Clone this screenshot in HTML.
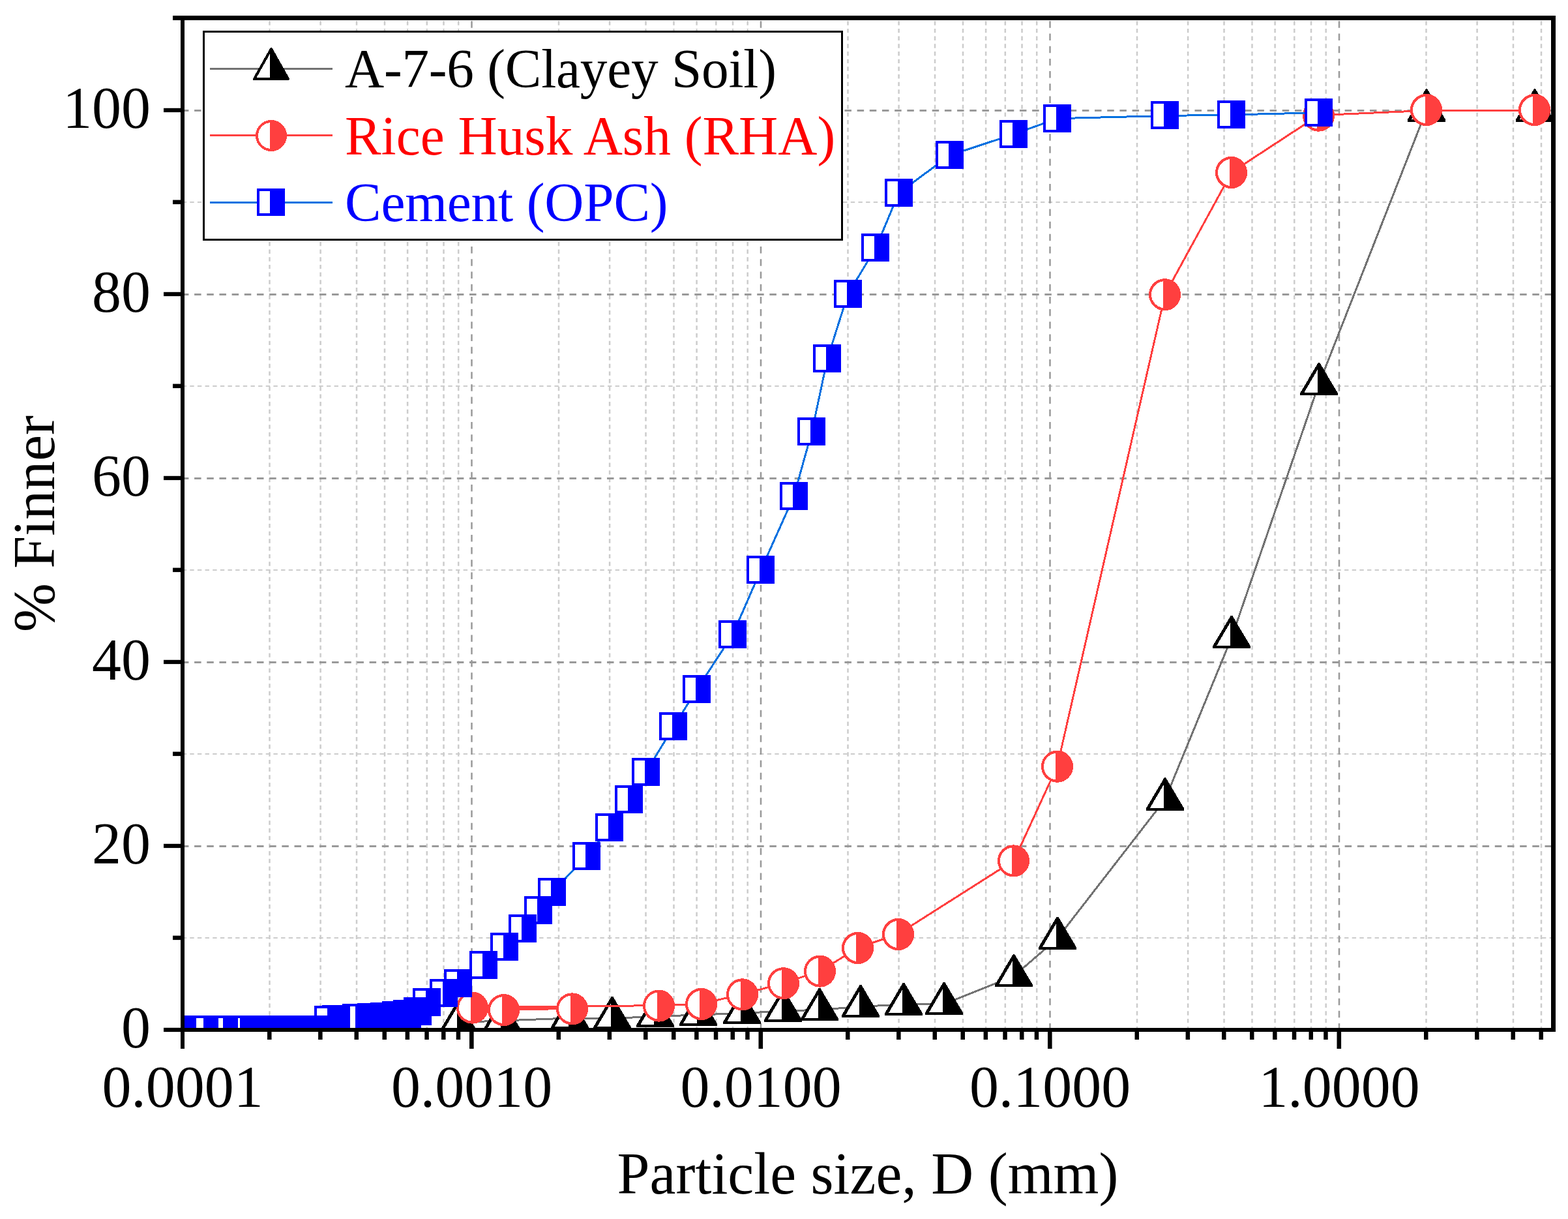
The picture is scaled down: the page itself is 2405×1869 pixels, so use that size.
<!DOCTYPE html>
<html lang="en"><head><meta charset="utf-8"><title>Particle size distribution</title>
<style>html,body{margin:0;padding:0;background:#fff;}svg{display:block;}text{font-family:"Liberation Serif",serif;}</style></head><body>
<svg width="2405" height="1869" viewBox="0 0 2405 1869">
<rect x="0" y="0" width="2405" height="1869" fill="#fff"/>
<defs><clipPath id="plot"><rect x="283" y="31" width="2096" height="1545"/></clipPath></defs>
<g clip-path="url(#plot)" fill="none">
<line x1="413.51" y1="32.27" x2="413.51" y2="1579" stroke="#cccccc" stroke-width="2.5" stroke-dasharray="6.4 5.277"/>
<line x1="491.60" y1="32.27" x2="491.60" y2="1579" stroke="#cccccc" stroke-width="2.5" stroke-dasharray="6.4 5.277"/>
<line x1="547.01" y1="32.27" x2="547.01" y2="1579" stroke="#cccccc" stroke-width="2.5" stroke-dasharray="6.4 5.277"/>
<line x1="589.99" y1="32.27" x2="589.99" y2="1579" stroke="#cccccc" stroke-width="2.5" stroke-dasharray="6.4 5.277"/>
<line x1="625.11" y1="32.27" x2="625.11" y2="1579" stroke="#cccccc" stroke-width="2.5" stroke-dasharray="6.4 5.277"/>
<line x1="654.80" y1="32.27" x2="654.80" y2="1579" stroke="#cccccc" stroke-width="2.5" stroke-dasharray="6.4 5.277"/>
<line x1="680.52" y1="32.27" x2="680.52" y2="1579" stroke="#cccccc" stroke-width="2.5" stroke-dasharray="6.4 5.277"/>
<line x1="703.21" y1="32.27" x2="703.21" y2="1579" stroke="#cccccc" stroke-width="2.5" stroke-dasharray="6.4 5.277"/>
<line x1="857.01" y1="32.27" x2="857.01" y2="1579" stroke="#cccccc" stroke-width="2.5" stroke-dasharray="6.4 5.277"/>
<line x1="935.10" y1="32.27" x2="935.10" y2="1579" stroke="#cccccc" stroke-width="2.5" stroke-dasharray="6.4 5.277"/>
<line x1="990.51" y1="32.27" x2="990.51" y2="1579" stroke="#cccccc" stroke-width="2.5" stroke-dasharray="6.4 5.277"/>
<line x1="1033.49" y1="32.27" x2="1033.49" y2="1579" stroke="#cccccc" stroke-width="2.5" stroke-dasharray="6.4 5.277"/>
<line x1="1068.61" y1="32.27" x2="1068.61" y2="1579" stroke="#cccccc" stroke-width="2.5" stroke-dasharray="6.4 5.277"/>
<line x1="1098.30" y1="32.27" x2="1098.30" y2="1579" stroke="#cccccc" stroke-width="2.5" stroke-dasharray="6.4 5.277"/>
<line x1="1124.02" y1="32.27" x2="1124.02" y2="1579" stroke="#cccccc" stroke-width="2.5" stroke-dasharray="6.4 5.277"/>
<line x1="1146.71" y1="32.27" x2="1146.71" y2="1579" stroke="#cccccc" stroke-width="2.5" stroke-dasharray="6.4 5.277"/>
<line x1="1300.51" y1="32.27" x2="1300.51" y2="1579" stroke="#cccccc" stroke-width="2.5" stroke-dasharray="6.4 5.277"/>
<line x1="1378.60" y1="32.27" x2="1378.60" y2="1579" stroke="#cccccc" stroke-width="2.5" stroke-dasharray="6.4 5.277"/>
<line x1="1434.01" y1="32.27" x2="1434.01" y2="1579" stroke="#cccccc" stroke-width="2.5" stroke-dasharray="6.4 5.277"/>
<line x1="1476.99" y1="32.27" x2="1476.99" y2="1579" stroke="#cccccc" stroke-width="2.5" stroke-dasharray="6.4 5.277"/>
<line x1="1512.11" y1="32.27" x2="1512.11" y2="1579" stroke="#cccccc" stroke-width="2.5" stroke-dasharray="6.4 5.277"/>
<line x1="1541.80" y1="32.27" x2="1541.80" y2="1579" stroke="#cccccc" stroke-width="2.5" stroke-dasharray="6.4 5.277"/>
<line x1="1567.52" y1="32.27" x2="1567.52" y2="1579" stroke="#cccccc" stroke-width="2.5" stroke-dasharray="6.4 5.277"/>
<line x1="1590.21" y1="32.27" x2="1590.21" y2="1579" stroke="#cccccc" stroke-width="2.5" stroke-dasharray="6.4 5.277"/>
<line x1="1744.01" y1="32.27" x2="1744.01" y2="1579" stroke="#cccccc" stroke-width="2.5" stroke-dasharray="6.4 5.277"/>
<line x1="1822.10" y1="32.27" x2="1822.10" y2="1579" stroke="#cccccc" stroke-width="2.5" stroke-dasharray="6.4 5.277"/>
<line x1="1877.51" y1="32.27" x2="1877.51" y2="1579" stroke="#cccccc" stroke-width="2.5" stroke-dasharray="6.4 5.277"/>
<line x1="1920.49" y1="32.27" x2="1920.49" y2="1579" stroke="#cccccc" stroke-width="2.5" stroke-dasharray="6.4 5.277"/>
<line x1="1955.61" y1="32.27" x2="1955.61" y2="1579" stroke="#cccccc" stroke-width="2.5" stroke-dasharray="6.4 5.277"/>
<line x1="1985.30" y1="32.27" x2="1985.30" y2="1579" stroke="#cccccc" stroke-width="2.5" stroke-dasharray="6.4 5.277"/>
<line x1="2011.02" y1="32.27" x2="2011.02" y2="1579" stroke="#cccccc" stroke-width="2.5" stroke-dasharray="6.4 5.277"/>
<line x1="2033.71" y1="32.27" x2="2033.71" y2="1579" stroke="#cccccc" stroke-width="2.5" stroke-dasharray="6.4 5.277"/>
<line x1="2187.51" y1="32.27" x2="2187.51" y2="1579" stroke="#cccccc" stroke-width="2.5" stroke-dasharray="6.4 5.277"/>
<line x1="2265.60" y1="32.27" x2="2265.60" y2="1579" stroke="#cccccc" stroke-width="2.5" stroke-dasharray="6.4 5.277"/>
<line x1="2321.01" y1="32.27" x2="2321.01" y2="1579" stroke="#cccccc" stroke-width="2.5" stroke-dasharray="6.4 5.277"/>
<line x1="2363.99" y1="32.27" x2="2363.99" y2="1579" stroke="#cccccc" stroke-width="2.5" stroke-dasharray="6.4 5.277"/>
<line x1="279.6" y1="1438" x2="2382" y2="1438" stroke="#cccccc" stroke-width="2" stroke-dasharray="6.4 5.250"/>
<line x1="279.6" y1="1156" x2="2382" y2="1156" stroke="#cccccc" stroke-width="2" stroke-dasharray="6.4 5.250"/>
<line x1="279.6" y1="874" x2="2382" y2="874" stroke="#cccccc" stroke-width="2" stroke-dasharray="6.4 5.250"/>
<line x1="279.6" y1="592" x2="2382" y2="592" stroke="#cccccc" stroke-width="2" stroke-dasharray="6.4 5.250"/>
<line x1="279.6" y1="310" x2="2382" y2="310" stroke="#cccccc" stroke-width="2" stroke-dasharray="6.4 5.250"/>
<line x1="723.50" y1="32.27" x2="723.50" y2="1579" stroke="#999999" stroke-width="2.5" stroke-dasharray="10.5 8.710"/>
<line x1="1167.00" y1="32.27" x2="1167.00" y2="1579" stroke="#999999" stroke-width="2.5" stroke-dasharray="10.5 8.710"/>
<line x1="1610.50" y1="32.27" x2="1610.50" y2="1579" stroke="#999999" stroke-width="2.5" stroke-dasharray="10.5 8.710"/>
<line x1="2054.00" y1="32.27" x2="2054.00" y2="1579" stroke="#999999" stroke-width="2.5" stroke-dasharray="10.5 8.710"/>
<line x1="278.9" y1="1297.5" x2="2382" y2="1297.5" stroke="#999999" stroke-width="3" stroke-dasharray="10.5 8.680"/>
<line x1="278.9" y1="1015.5" x2="2382" y2="1015.5" stroke="#999999" stroke-width="3" stroke-dasharray="10.5 8.680"/>
<line x1="278.9" y1="733.5" x2="2382" y2="733.5" stroke="#999999" stroke-width="3" stroke-dasharray="10.5 8.680"/>
<line x1="278.9" y1="451.5" x2="2382" y2="451.5" stroke="#999999" stroke-width="3" stroke-dasharray="10.5 8.680"/>
<line x1="278.9" y1="169.5" x2="2382" y2="169.5" stroke="#999999" stroke-width="3" stroke-dasharray="10.5 8.680"/>
</g>
<g clip-path="url(#plot)" shape-rendering="crispEdges">
<path d="M2354.1,169.8 L2187.5,169.8 L2022.7,589.5 L1889.2,977.2 L1787.0,1225.7 L1621.7,1438.9 L1555.1,1496.5 L1448.5,1539.2 L1386.3,1540.2 L1319.9,1543.2 L1257.4,1548.3 L1201.0,1550.0 L1137.6,1553.5 L1070.6,1556.0 L1005.1,1558.5 L939.3,1561.3 L874.0,1561.0 L770.0,1565.0 L703.3,1567.5" fill="none" stroke="#727272" stroke-width="3" stroke-linejoin="round"/>
<path d="M2352.8,136.4 L2355.2,136.4 L2383.2,183.6 L2383.2,186.7 L2324.8,186.7 L2324.8,183.6 Z" fill="#000"/><path d="M2352,146.9 L2352,182.7 L2331,182.7 Z" fill="#fff"/>
<path d="M2186.8,136.4 L2189.2,136.4 L2217.2,183.6 L2217.2,186.7 L2158.8,186.7 L2158.8,183.6 Z" fill="#000"/><path d="M2186,146.9 L2186,182.7 L2165,182.7 Z" fill="#fff"/>
<path d="M2021.8,556.1 L2024.2,556.1 L2052.2,603.3 L2052.2,606.4 L1993.8,606.4 L1993.8,603.3 Z" fill="#000"/><path d="M2021,566.6 L2021,602.4 L2000,602.4 Z" fill="#fff"/>
<path d="M1887.8,943.8 L1890.2,943.8 L1918.2,991.0 L1918.2,994.1 L1859.8,994.1 L1859.8,991.0 Z" fill="#000"/><path d="M1887,954.3 L1887,990.1 L1866,990.1 Z" fill="#fff"/>
<path d="M1785.8,1192.3 L1788.2,1192.3 L1816.2,1239.5 L1816.2,1242.6 L1757.8,1242.6 L1757.8,1239.5 Z" fill="#000"/><path d="M1785,1202.8 L1785,1238.6 L1764,1238.6 Z" fill="#fff"/>
<path d="M1620.8,1405.5 L1623.2,1405.5 L1651.2,1452.7 L1651.2,1455.8 L1592.8,1455.8 L1592.8,1452.7 Z" fill="#000"/><path d="M1620,1416.0 L1620,1451.8 L1599,1451.8 Z" fill="#fff"/>
<path d="M1553.8,1463.1 L1556.2,1463.1 L1584.2,1510.3 L1584.2,1513.4 L1525.8,1513.4 L1525.8,1510.3 Z" fill="#000"/><path d="M1553,1473.6 L1553,1509.4 L1532,1509.4 Z" fill="#fff"/>
<path d="M1446.8,1505.8 L1449.2,1505.8 L1477.2,1553.0 L1477.2,1556.1 L1418.8,1556.1 L1418.8,1553.0 Z" fill="#000"/><path d="M1446,1516.3 L1446,1552.1 L1425,1552.1 Z" fill="#fff"/>
<path d="M1384.8,1506.8 L1387.2,1506.8 L1415.2,1554.0 L1415.2,1557.1 L1356.8,1557.1 L1356.8,1554.0 Z" fill="#000"/><path d="M1384,1517.3 L1384,1553.1 L1363,1553.1 Z" fill="#fff"/>
<path d="M1318.8,1509.8 L1321.2,1509.8 L1349.2,1557.0 L1349.2,1560.1 L1290.8,1560.1 L1290.8,1557.0 Z" fill="#000"/><path d="M1318,1520.3 L1318,1556.1 L1297,1556.1 Z" fill="#fff"/>
<path d="M1255.8,1514.9 L1258.2,1514.9 L1286.2,1562.1 L1286.2,1565.2 L1227.8,1565.2 L1227.8,1562.1 Z" fill="#000"/><path d="M1255,1525.4 L1255,1561.2 L1234,1561.2 Z" fill="#fff"/>
<path d="M1199.8,1516.6 L1202.2,1516.6 L1230.2,1563.8 L1230.2,1566.9 L1171.8,1566.9 L1171.8,1563.8 Z" fill="#000"/><path d="M1199,1527.1 L1199,1562.9 L1178,1562.9 Z" fill="#fff"/>
<path d="M1136.8,1520.1 L1139.2,1520.1 L1167.2,1567.3 L1167.2,1570.4 L1108.8,1570.4 L1108.8,1567.3 Z" fill="#000"/><path d="M1136,1530.6 L1136,1566.4 L1115,1566.4 Z" fill="#fff"/>
<path d="M1069.8,1522.6 L1072.2,1522.6 L1100.2,1569.8 L1100.2,1572.9 L1041.8,1572.9 L1041.8,1569.8 Z" fill="#000"/><path d="M1069,1533.1 L1069,1568.9 L1048,1568.9 Z" fill="#fff"/>
<path d="M1003.8,1525.1 L1006.2,1525.1 L1034.2,1572.3 L1034.2,1575.4 L975.8,1575.4 L975.8,1572.3 Z" fill="#000"/><path d="M1003,1535.6 L1003,1571.4 L982,1571.4 Z" fill="#fff"/>
<path d="M937.8,1527.9 L940.2,1527.9 L968.2,1575.1 L968.2,1578.2 L909.8,1578.2 L909.8,1575.1 Z" fill="#000"/><path d="M937,1538.4 L937,1574.2 L916,1574.2 Z" fill="#fff"/>
<path d="M872.8,1527.6 L875.2,1527.6 L903.2,1574.8 L903.2,1577.9 L844.8,1577.9 L844.8,1574.8 Z" fill="#000"/><path d="M872,1538.1 L872,1573.9 L851,1573.9 Z" fill="#fff"/>
<path d="M768.8,1531.6 L771.2,1531.6 L799.2,1578.8 L799.2,1581.9 L740.8,1581.9 L740.8,1578.8 Z" fill="#000"/><path d="M768,1542.1 L768,1577.9 L747,1577.9 Z" fill="#fff"/>
<path d="M701.8,1534.1 L704.2,1534.1 L732.2,1581.3 L732.2,1584.4 L673.8,1584.4 L673.8,1581.3 Z" fill="#000"/><path d="M701,1544.6 L701,1580.4 L680,1580.4 Z" fill="#fff"/>
<path d="M2354.1,169.5 L2187.5,169.5 L2022.7,176.7 L1889.2,264.0 L1787.0,451.2 L1621.7,1174.7 L1555.1,1319.4 L1377.8,1432.0 L1316.2,1453.0 L1258.5,1488.6 L1202.5,1507.2 L1139.1,1524.3 L1075.6,1539.0 L1011.2,1541.6 L725.0,1544.6 L773.0,1548.1 L878.3,1546.4" fill="none" stroke="#ff3f3f" stroke-width="3" stroke-linejoin="round"/>
<line x1="773" y1="1545.9" x2="878.3" y2="1544.9" stroke="#ff3f3f" stroke-width="4"/>
<circle cx="2353.5" cy="168.5" r="22.5" fill="#fff"/><path d="M2351.0,146.14 A22.5,22.5 0 1 1 2351.0,190.86 Z" fill="#ff3f3f"/><circle cx="2353.5" cy="168.5" r="22.5" fill="none" stroke="#ff3f3f" stroke-width="4"/>
<circle cx="2187.5" cy="168.5" r="22.5" fill="#fff"/><path d="M2186.0,146.05 A22.5,22.5 0 1 1 2186.0,190.95 Z" fill="#ff3f3f"/><circle cx="2187.5" cy="168.5" r="22.5" fill="none" stroke="#ff3f3f" stroke-width="4"/>
<circle cx="2022.5" cy="177.2" r="22.5" fill="#fff"/><path d="M2020.0,154.84 A22.5,22.5 0 1 1 2020.0,199.56 Z" fill="#ff3f3f"/><circle cx="2022.5" cy="177.2" r="22.5" fill="none" stroke="#ff3f3f" stroke-width="4"/>
<circle cx="1888.5" cy="264.5" r="22.5" fill="#fff"/><path d="M1886.0,242.14 A22.5,22.5 0 1 1 1886.0,286.86 Z" fill="#ff3f3f"/><circle cx="1888.5" cy="264.5" r="22.5" fill="none" stroke="#ff3f3f" stroke-width="4"/>
<circle cx="1786.5" cy="451.7" r="22.5" fill="#fff"/><path d="M1784.0,429.34 A22.5,22.5 0 1 1 1784.0,474.06 Z" fill="#ff3f3f"/><circle cx="1786.5" cy="451.7" r="22.5" fill="none" stroke="#ff3f3f" stroke-width="4"/>
<circle cx="1621.5" cy="1175.2" r="22.5" fill="#fff"/><path d="M1619.0,1152.84 A22.5,22.5 0 1 1 1619.0,1197.56 Z" fill="#ff3f3f"/><circle cx="1621.5" cy="1175.2" r="22.5" fill="none" stroke="#ff3f3f" stroke-width="4"/>
<circle cx="1554.5" cy="1319.9" r="22.5" fill="#fff"/><path d="M1552.0,1297.54 A22.5,22.5 0 1 1 1552.0,1342.26 Z" fill="#ff3f3f"/><circle cx="1554.5" cy="1319.9" r="22.5" fill="none" stroke="#ff3f3f" stroke-width="4"/>
<circle cx="1377.5" cy="1432.5" r="22.5" fill="#fff"/><path d="M1375.0,1410.14 A22.5,22.5 0 1 1 1375.0,1454.86 Z" fill="#ff3f3f"/><circle cx="1377.5" cy="1432.5" r="22.5" fill="none" stroke="#ff3f3f" stroke-width="4"/>
<circle cx="1315.5" cy="1453.5" r="22.5" fill="#fff"/><path d="M1313.0,1431.14 A22.5,22.5 0 1 1 1313.0,1475.86 Z" fill="#ff3f3f"/><circle cx="1315.5" cy="1453.5" r="22.5" fill="none" stroke="#ff3f3f" stroke-width="4"/>
<circle cx="1257.5" cy="1489.1" r="22.5" fill="#fff"/><path d="M1255.0,1466.74 A22.5,22.5 0 1 1 1255.0,1511.46 Z" fill="#ff3f3f"/><circle cx="1257.5" cy="1489.1" r="22.5" fill="none" stroke="#ff3f3f" stroke-width="4"/>
<circle cx="1201.5" cy="1507.7" r="22.5" fill="#fff"/><path d="M1199.0,1485.34 A22.5,22.5 0 1 1 1199.0,1530.06 Z" fill="#ff3f3f"/><circle cx="1201.5" cy="1507.7" r="22.5" fill="none" stroke="#ff3f3f" stroke-width="4"/>
<circle cx="1138.5" cy="1524.8" r="22.5" fill="#fff"/><path d="M1136.0,1502.44 A22.5,22.5 0 1 1 1136.0,1547.16 Z" fill="#ff3f3f"/><circle cx="1138.5" cy="1524.8" r="22.5" fill="none" stroke="#ff3f3f" stroke-width="4"/>
<circle cx="1075.5" cy="1539.5" r="22.5" fill="#fff"/><path d="M1073.0,1517.14 A22.5,22.5 0 1 1 1073.0,1561.86 Z" fill="#ff3f3f"/><circle cx="1075.5" cy="1539.5" r="22.5" fill="none" stroke="#ff3f3f" stroke-width="4"/>
<circle cx="1010.5" cy="1542.1" r="22.5" fill="#fff"/><path d="M1008.0,1519.74 A22.5,22.5 0 1 1 1008.0,1564.46 Z" fill="#ff3f3f"/><circle cx="1010.5" cy="1542.1" r="22.5" fill="none" stroke="#ff3f3f" stroke-width="4"/>
<circle cx="724.5" cy="1545.1" r="22.5" fill="#fff"/><path d="M722.0,1522.74 A22.5,22.5 0 1 1 722.0,1567.46 Z" fill="#ff3f3f"/><circle cx="724.5" cy="1545.1" r="22.5" fill="none" stroke="#ff3f3f" stroke-width="4"/>
<circle cx="772.5" cy="1548.6" r="22.5" fill="#fff"/><path d="M770.0,1526.24 A22.5,22.5 0 1 1 770.0,1570.96 Z" fill="#ff3f3f"/><circle cx="772.5" cy="1548.6" r="22.5" fill="none" stroke="#ff3f3f" stroke-width="4"/>
<circle cx="877.5" cy="1546.9" r="22.5" fill="#fff"/><path d="M875.0,1524.54 A22.5,22.5 0 1 1 875.0,1569.26 Z" fill="#ff3f3f"/><circle cx="877.5" cy="1546.9" r="22.5" fill="none" stroke="#ff3f3f" stroke-width="4"/>
<path d="M2022.7,172.7 L1889.2,176.0 L1787.0,177.5 L1621.7,181.7 L1555.1,205.7 L1456.7,238.1 L1378.6,295.9 L1343.5,379.7 L1300.5,451.0 L1269.2,549.7 L1245.1,662.5 L1217.5,761.2 L1167.0,874.0 L1124.0,972.7 L1068.6,1057.3 L1033.5,1113.7 L990.5,1184.2 L964.8,1226.5 L935.1,1268.8 L900.0,1312.9 L847.1,1367.5 L825.7,1395.7 L801.6,1423.9 L774.0,1452.1 L741.9,1480.3 L703.2,1508.5 L680.5,1522.6 L654.8,1536.7 L640.5,1550.8 L625.1,1555.0 L608.4,1557.1 L590.0,1558.6 L569.7,1560.0 L547.0,1560.7 L515.7,1562.5 L504.0,1564.5 L491.6,1578.6 L478.3,1578.6 L464.0,1578.6 L448.6,1578.6 L431.9,1578.6 L413.5,1578.6 L393.2,1578.6 L369.9,1578.6 L343.8,1578.6 L313.5,1578.6 L280.0,1578.6" fill="none" stroke="#0070e0" stroke-width="3" stroke-linejoin="round"/>
<rect x="2001" y="151" width="43" height="43" fill="#0000ff"/><rect x="2005" y="155" width="16" height="35" fill="#fff"/>
<rect x="1867" y="154" width="43" height="43" fill="#0000ff"/><rect x="1871" y="158" width="16" height="35" fill="#fff"/>
<rect x="1765" y="155" width="43" height="43" fill="#0000ff"/><rect x="1769" y="159" width="16" height="35" fill="#fff"/>
<rect x="1600" y="160" width="43" height="43" fill="#0000ff"/><rect x="1604" y="164" width="16" height="35" fill="#fff"/>
<rect x="1533" y="184" width="43" height="43" fill="#0000ff"/><rect x="1537" y="188" width="16" height="35" fill="#fff"/>
<rect x="1435" y="216" width="43" height="43" fill="#0000ff"/><rect x="1439" y="220" width="16" height="35" fill="#fff"/>
<rect x="1357" y="274" width="43" height="43" fill="#0000ff"/><rect x="1361" y="278" width="16" height="35" fill="#fff"/>
<rect x="1321" y="358" width="43" height="43" fill="#0000ff"/><rect x="1325" y="362" width="16" height="35" fill="#fff"/>
<rect x="1279" y="429" width="43" height="43" fill="#0000ff"/><rect x="1283" y="433" width="16" height="35" fill="#fff"/>
<rect x="1247" y="528" width="43" height="43" fill="#0000ff"/><rect x="1251" y="532" width="16" height="35" fill="#fff"/>
<rect x="1223" y="640" width="43" height="43" fill="#0000ff"/><rect x="1227" y="644" width="16" height="35" fill="#fff"/>
<rect x="1196" y="739" width="43" height="43" fill="#0000ff"/><rect x="1200" y="743" width="16" height="35" fill="#fff"/>
<rect x="1145" y="852" width="43" height="43" fill="#0000ff"/><rect x="1149" y="856" width="16" height="35" fill="#fff"/>
<rect x="1102" y="951" width="43" height="43" fill="#0000ff"/><rect x="1106" y="955" width="16" height="35" fill="#fff"/>
<rect x="1047" y="1035" width="43" height="43" fill="#0000ff"/><rect x="1051" y="1039" width="16" height="35" fill="#fff"/>
<rect x="1011" y="1092" width="43" height="43" fill="#0000ff"/><rect x="1015" y="1096" width="16" height="35" fill="#fff"/>
<rect x="969" y="1162" width="43" height="43" fill="#0000ff"/><rect x="973" y="1166" width="16" height="35" fill="#fff"/>
<rect x="943" y="1204" width="43" height="43" fill="#0000ff"/><rect x="947" y="1208" width="16" height="35" fill="#fff"/>
<rect x="913" y="1247" width="43" height="43" fill="#0000ff"/><rect x="917" y="1251" width="16" height="35" fill="#fff"/>
<rect x="878" y="1291" width="43" height="43" fill="#0000ff"/><rect x="882" y="1295" width="16" height="35" fill="#fff"/>
<rect x="825" y="1346" width="43" height="43" fill="#0000ff"/><rect x="829" y="1350" width="16" height="35" fill="#fff"/>
<rect x="804" y="1374" width="43" height="43" fill="#0000ff"/><rect x="808" y="1378" width="16" height="35" fill="#fff"/>
<rect x="780" y="1402" width="43" height="43" fill="#0000ff"/><rect x="784" y="1406" width="16" height="35" fill="#fff"/>
<rect x="752" y="1430" width="43" height="43" fill="#0000ff"/><rect x="756" y="1434" width="16" height="35" fill="#fff"/>
<rect x="720" y="1458" width="43" height="43" fill="#0000ff"/><rect x="724" y="1462" width="16" height="35" fill="#fff"/>
<rect x="681" y="1486" width="43" height="43" fill="#0000ff"/><rect x="685" y="1490" width="16" height="35" fill="#fff"/>
<rect x="659" y="1501" width="43" height="43" fill="#0000ff"/><rect x="663" y="1505" width="16" height="35" fill="#fff"/>
<rect x="633" y="1515" width="43" height="43" fill="#0000ff"/><rect x="637" y="1519" width="16" height="35" fill="#fff"/>
<rect x="619" y="1529" width="43" height="43" fill="#0000ff"/><rect x="623" y="1533" width="16" height="35" fill="#fff"/>
<rect x="603" y="1533" width="43" height="43" fill="#0000ff"/><rect x="607" y="1537" width="16" height="35" fill="#fff"/>
<rect x="586" y="1535" width="43" height="43" fill="#0000ff"/><rect x="590" y="1539" width="16" height="35" fill="#fff"/>
<rect x="568" y="1537" width="43" height="43" fill="#0000ff"/><rect x="572" y="1541" width="16" height="35" fill="#fff"/>
<rect x="548" y="1538" width="43" height="43" fill="#0000ff"/><rect x="552" y="1542" width="16" height="35" fill="#fff"/>
<rect x="525" y="1539" width="43" height="43" fill="#0000ff"/><rect x="529" y="1543" width="16" height="35" fill="#fff"/>
<rect x="494" y="1541" width="43" height="43" fill="#0000ff"/><rect x="498" y="1545" width="16" height="35" fill="#fff"/>
<rect x="482" y="1542" width="43" height="43" fill="#0000ff"/><rect x="486" y="1546" width="16" height="35" fill="#fff"/>
<rect x="470" y="1557" width="43" height="43" fill="#0000ff"/><rect x="474" y="1561" width="16" height="35" fill="#fff"/>
<rect x="456" y="1557" width="43" height="43" fill="#0000ff"/><rect x="460" y="1561" width="16" height="35" fill="#fff"/>
<rect x="442" y="1557" width="43" height="43" fill="#0000ff"/><rect x="446" y="1561" width="16" height="35" fill="#fff"/>
<rect x="427" y="1557" width="43" height="43" fill="#0000ff"/><rect x="431" y="1561" width="16" height="35" fill="#fff"/>
<rect x="410" y="1557" width="43" height="43" fill="#0000ff"/><rect x="414" y="1561" width="16" height="35" fill="#fff"/>
<rect x="392" y="1557" width="43" height="43" fill="#0000ff"/><rect x="396" y="1561" width="16" height="35" fill="#fff"/>
<rect x="371" y="1557" width="43" height="43" fill="#0000ff"/><rect x="375" y="1561" width="16" height="35" fill="#fff"/>
<rect x="348" y="1557" width="43" height="43" fill="#0000ff"/><rect x="352" y="1561" width="16" height="35" fill="#fff"/>
<rect x="322" y="1557" width="43" height="43" fill="#0000ff"/><rect x="326" y="1561" width="16" height="35" fill="#fff"/>
<rect x="292" y="1557" width="43" height="43" fill="#0000ff"/><rect x="296" y="1561" width="16" height="35" fill="#fff"/>
<rect x="258" y="1557" width="43" height="43" fill="#0000ff"/><rect x="262" y="1561" width="16" height="35" fill="#fff"/>
</g>
<g fill="#000">
<rect x="277" y="24" width="6" height="1558"/>
<rect x="277" y="1576" width="2109" height="6"/>
<rect x="265" y="24" width="2121" height="7"/>
<rect x="2379" y="24" width="7" height="1558"/>
<rect x="251" y="1575.80" width="27" height="6.3"/>
<rect x="251" y="1293.80" width="27" height="6.3"/>
<rect x="251" y="1011.80" width="27" height="6.3"/>
<rect x="251" y="729.80" width="27" height="6.3"/>
<rect x="251" y="447.80" width="27" height="6.3"/>
<rect x="251" y="165.80" width="27" height="6.3"/>
<rect x="265" y="1434.60" width="13" height="6.5"/>
<rect x="265" y="1152.60" width="13" height="6.5"/>
<rect x="265" y="870.60" width="13" height="6.5"/>
<rect x="265" y="588.60" width="13" height="6.5"/>
<rect x="265" y="306.60" width="13" height="6.5"/>
<rect x="277" y="1580" width="6" height="28"/>
<rect x="410.01" y="1580" width="6.5" height="14"/>
<rect x="488.10" y="1580" width="6.5" height="14"/>
<rect x="543.51" y="1580" width="6.5" height="14"/>
<rect x="586.49" y="1580" width="6.5" height="14"/>
<rect x="621.61" y="1580" width="6.5" height="14"/>
<rect x="651.30" y="1580" width="6.5" height="14"/>
<rect x="677.02" y="1580" width="6.5" height="14"/>
<rect x="699.71" y="1580" width="6.5" height="14"/>
<rect x="720.00" y="1580" width="6.6" height="28"/>
<rect x="853.51" y="1580" width="6.5" height="14"/>
<rect x="931.60" y="1580" width="6.5" height="14"/>
<rect x="987.01" y="1580" width="6.5" height="14"/>
<rect x="1029.99" y="1580" width="6.5" height="14"/>
<rect x="1065.11" y="1580" width="6.5" height="14"/>
<rect x="1094.80" y="1580" width="6.5" height="14"/>
<rect x="1120.52" y="1580" width="6.5" height="14"/>
<rect x="1143.21" y="1580" width="6.5" height="14"/>
<rect x="1163.50" y="1580" width="6.6" height="28"/>
<rect x="1297.01" y="1580" width="6.5" height="14"/>
<rect x="1375.10" y="1580" width="6.5" height="14"/>
<rect x="1430.51" y="1580" width="6.5" height="14"/>
<rect x="1473.49" y="1580" width="6.5" height="14"/>
<rect x="1508.61" y="1580" width="6.5" height="14"/>
<rect x="1538.30" y="1580" width="6.5" height="14"/>
<rect x="1564.02" y="1580" width="6.5" height="14"/>
<rect x="1586.71" y="1580" width="6.5" height="14"/>
<rect x="1607.00" y="1580" width="6.6" height="28"/>
<rect x="1740.51" y="1580" width="6.5" height="14"/>
<rect x="1818.60" y="1580" width="6.5" height="14"/>
<rect x="1874.01" y="1580" width="6.5" height="14"/>
<rect x="1916.99" y="1580" width="6.5" height="14"/>
<rect x="1952.11" y="1580" width="6.5" height="14"/>
<rect x="1981.80" y="1580" width="6.5" height="14"/>
<rect x="2007.52" y="1580" width="6.5" height="14"/>
<rect x="2030.21" y="1580" width="6.5" height="14"/>
<rect x="2050.50" y="1580" width="6.6" height="28"/>
<rect x="2184.01" y="1580" width="6.5" height="14"/>
<rect x="2262.10" y="1580" width="6.5" height="14"/>
<rect x="2317.51" y="1580" width="6.5" height="14"/>
<rect x="2360.49" y="1580" width="6.5" height="14"/>
</g>
<g shape-rendering="crispEdges">
<rect x="312.5" y="48.5" width="979" height="319" fill="#fff" stroke="#000" stroke-width="3" shape-rendering="crispEdges"/>
<line x1="322" y1="105.5" x2="510" y2="105.5" stroke="#727272" stroke-width="3"/>
<line x1="322" y1="207.5" x2="510" y2="207.5" stroke="#ff3f3f" stroke-width="3"/>
<line x1="322" y1="310.5" x2="510" y2="310.5" stroke="#0070e0" stroke-width="3"/>
<path d="M416,75.0 L442,121.0 L390,121.0 Z" fill="#fff" stroke="none"/><path d="M414,75.0 L416,75.0 L442,121.0 L414,121.0 Z" fill="#000" stroke="none"/><path d="M416,75.0 L442,121.0 L390,121.0 Z" fill="none" stroke="#000" stroke-width="4" stroke-linejoin="round"/>
<circle cx="416" cy="208.0" r="22" fill="#fff"/><path d="M414,186.09 A22,22 0 1 1 414,229.91 Z" fill="#ff3f3f"/><circle cx="416" cy="208.0" r="22" fill="none" stroke="#ff3f3f" stroke-width="4"/>
<rect x="394" y="289" width="43" height="42" fill="#0000ff"/><rect x="398" y="293" width="16" height="34" fill="#fff"/>
</g>
<text transform="translate(529,134.4) scale(1,1.018)" font-size="83.33px" text-anchor="start" fill="#000" textLength="662.0" lengthAdjust="spacing">A-7-6 (Clayey Soil)</text>
<text transform="translate(529,236.9) scale(1,1.018)" font-size="83.33px" text-anchor="start" fill="#ff0000">Rice Husk Ash (RHA)</text>
<text transform="translate(529,338.6) scale(1,1.018)" font-size="83.33px" text-anchor="start" fill="#0000ff" textLength="495.6" lengthAdjust="spacing">Cement (OPC)</text>
<text transform="translate(231,1606.3) scale(1,1.018)" font-size="89.9px" text-anchor="end" fill="#000">0</text>
<text transform="translate(231,1324.3) scale(1,1.018)" font-size="89.9px" text-anchor="end" fill="#000">20</text>
<text transform="translate(231,1042.3) scale(1,1.018)" font-size="89.9px" text-anchor="end" fill="#000">40</text>
<text transform="translate(231,760.3) scale(1,1.018)" font-size="89.9px" text-anchor="end" fill="#000">60</text>
<text transform="translate(231,478.3) scale(1,1.018)" font-size="89.9px" text-anchor="end" fill="#000">80</text>
<text transform="translate(231,196.3) scale(1,1.018)" font-size="89.9px" text-anchor="end" fill="#000">100</text>
<text transform="translate(280.0,1697) scale(1,1.018)" font-size="89.9px" text-anchor="middle" fill="#000">0.0001</text>
<text transform="translate(723.5,1697) scale(1,1.018)" font-size="89.9px" text-anchor="middle" fill="#000">0.0010</text>
<text transform="translate(1167.0,1697) scale(1,1.018)" font-size="89.9px" text-anchor="middle" fill="#000">0.0100</text>
<text transform="translate(1610.5,1697) scale(1,1.018)" font-size="89.9px" text-anchor="middle" fill="#000">0.1000</text>
<text transform="translate(2054.0,1697) scale(1,1.018)" font-size="89.9px" text-anchor="middle" fill="#000">1.0000</text>
<text transform="translate(1331,1830.3) scale(1,1.018)" font-size="89.9px" text-anchor="middle" fill="#000">Particle size, D (mm)</text>
<text transform="translate(83,803) rotate(-90) scale(1,1.018)" font-size="89.9px" text-anchor="middle" fill="#000">% Finner</text>
</svg></body></html>
